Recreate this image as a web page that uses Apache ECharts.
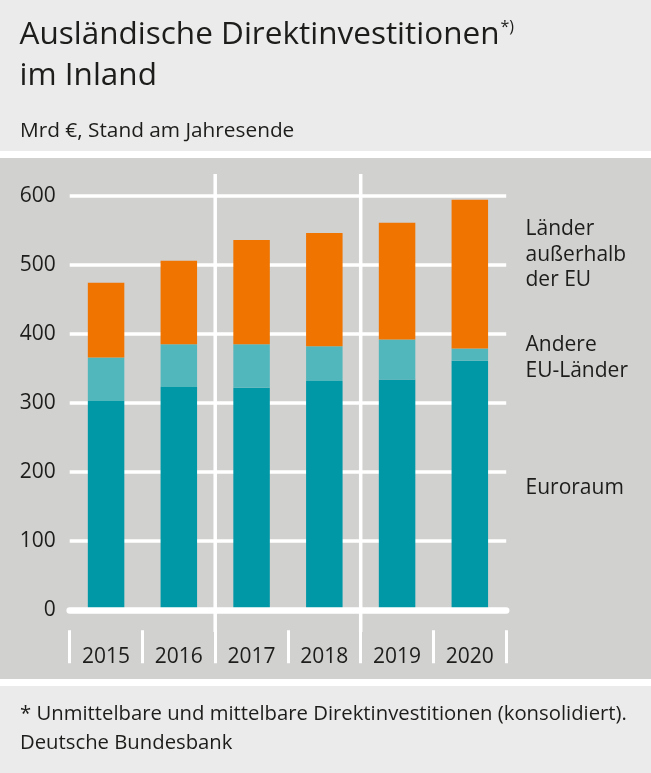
<!DOCTYPE html>
<html>
<head>
<meta charset="utf-8">
<script src="https://cdn.jsdelivr.net/npm/echarts@6/dist/echarts.min.js"></script>
<style>
html,body{margin:0;padding:0;background:#ebebeb;}
#c{width:651px;height:773px;}
</style>
</head>
<body>
<div id="c"></div>
<script>
var categories = ['2015', '2016', '2017', '2018', '2019', '2020'];
var euroraum = [303, 323, 322, 332, 334, 361];
var andereEU = [63, 62, 63, 50, 58, 18];
var ausserhalbEU = [108, 121, 151, 164, 169, 215];
var yTicks = [0, 100, 200, 300, 400, 500, 600];

var FONT = 'Open Sans';
var TXT = '#1d1d1b';

var chart = echarts.init(document.getElementById('c'), null, {renderer: 'canvas'});

// baseline-positioned text helper
function txt(x, baseline, s, size, extra) {
  var st = {text: s, fill: TXT, fontSize: size, fontFamily: FONT, verticalAlign: 'bottom'};
  if (extra) for (var k in extra) st[k] = extra[k];
  return {type: 'text', x: x, y: baseline + 0.27 * size, z: 10, style: st};
}

var option = {
  backgroundColor: '#ebebeb',
  animation: false,
  grid: {left: 69.7, right: 144.8, top: 195.7, bottom: 162.7},
  xAxis: [
    {
      type: 'category', data: categories, position: 'bottom',
      axisLine: {show: true, lineStyle: {color: '#ffffff', width: 6.5, cap: 'round'}},
      axisTick: {show: false}, axisLabel: {show: false}, splitLine: {show: false}, z: 5
    },
    {
      type: 'category', data: categories, position: 'bottom', offset: 20,
      axisLine: {show: false},
      axisTick: {show: true, length: 33, inside: false, interval: 0, lineStyle: {color: '#ffffff', width: 3}},
      axisLabel: {show: true, interval: 0, fontSize: 21, fontFamily: FONT, color: TXT, margin: 16},
      splitLine: {show: false}
    }
  ],
  yAxis: {
    type: 'value', min: yTicks[0], max: yTicks[yTicks.length - 1], interval: 100,
    axisLine: {show: false}, axisTick: {show: false},
    axisLabel: {fontSize: 21, fontFamily: FONT, color: TXT, margin: 14},
    splitLine: {show: true, lineStyle: {color: '#ffffff', width: 3.5}}
  },
  series: [
    {name: 'Euroraum', type: 'bar', stack: 's', data: euroraum, barWidth: 36.5, itemStyle: {color: '#0098a7'}},
    {name: 'Andere EU-Länder', type: 'bar', stack: 's', data: andereEU, barWidth: 36.5, itemStyle: {color: '#52b7bc'}},
    {name: 'Länder außerhalb der EU', type: 'bar', stack: 's', data: ausserhalbEU, barWidth: 36.5, itemStyle: {color: '#ef7400'}}
  ],
  graphic: []
};
chart.setOption(option);

// separators between 2016/2017 and 2018/2019, computed from the axis scale
var centers = categories.map(function (c) { return chart.convertToPixel({xAxisIndex: 0}, c); });
var g = [
  {type: 'rect', shape: {x: 0, y: 151, width: 651, height: 535}, style: {fill: '#ffffff'}, z: -10, silent: true},
  {type: 'rect', shape: {x: 0, y: 158, width: 651, height: 521}, style: {fill: '#d1d1d0'}, z: -9, silent: true}
];
[2, 4].forEach(function (i) {
  var x = (centers[i - 1] + centers[i]) / 2;
  g.push({type: 'line', shape: {x1: x, y1: 174, x2: x, y2: 632}, style: {stroke: '#ffffff', lineWidth: 3.5}, z: -1, silent: true});
});
// texts
g.push({type: 'text', x: 19.5, y: 43 + 0.27 * 31.5, z: 10, style: {
  text: '{t|Ausländische Direktinvestitionen}{s|*)}',
  fill: TXT, verticalAlign: 'bottom',
  rich: {t: {fontSize: 31.5, fontWeight: 500, fontFamily: FONT, fill: TXT}, s: {fontSize: 16, fontWeight: 500, fontFamily: FONT, fill: TXT, verticalAlign: 'top', padding: [0, 0, 15, 1]}}
}});
g.push(txt(19.5, 83.5, 'im Inland', 31.5, {fontWeight: 500}));
g.push(txt(20, 136, 'Mrd €, Stand am Jahresende', 20.8));
g.push(txt(525.5, 234, 'Länder', 21));
g.push(txt(525.5, 260, 'außerhalb', 21));
g.push(txt(525.5, 285, 'der EU', 21));
g.push(txt(525.5, 350, 'Andere', 21));
g.push(txt(525.5, 376, 'EU-Länder', 21));
g.push(txt(525.5, 493, 'Euroraum', 21));
g.push(txt(20, 719, '* Unmittelbare und mittelbare Direktinvestitionen (konsolidiert).', 20.3));
g.push(txt(20, 748, 'Deutsche Bundesbank', 20.3));
chart.setOption({graphic: g});
</script>
</body>
</html>
